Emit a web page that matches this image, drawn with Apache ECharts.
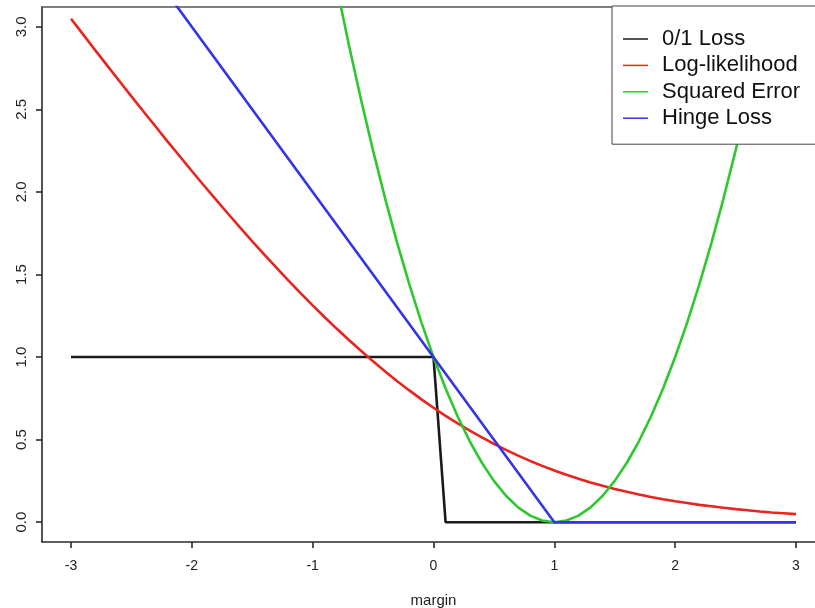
<!DOCTYPE html>
<html>
<head>
<meta charset="utf-8">
<script src="https://cdn.jsdelivr.net/npm/echarts@6/dist/echarts.min.js"></script>
<style>
  html, body { margin: 0; padding: 0; background: #fff; }
  #chart { width: 815px; height: 608px; }
</style>
</head>
<body>
<div id="chart"></div>
<script>
// values
var seriesNames = ['0/1 Loss', 'Log-likelihood', 'Squared Error', 'Hinge Loss'];
var xTicks = [-3, -2, -1, 0, 1, 2, 3];
var yTicks = [0, 0.5, 1, 1.5, 2, 2.5, 3];

var zeroOneX = [-3, 0, 0.1, 3];
var zeroOneY = [1, 1, 0, 0];

var marginX = [-3.0, -2.9, -2.8, -2.7, -2.6, -2.5, -2.4, -2.3, -2.2, -2.1,
  -2.0, -1.9, -1.8, -1.7, -1.6, -1.5, -1.4, -1.3, -1.2, -1.1,
  -1.0, -0.9, -0.8, -0.7, -0.6, -0.5, -0.4, -0.3, -0.2, -0.1,
  0.0, 0.1, 0.2, 0.3, 0.4, 0.5, 0.6, 0.7, 0.8, 0.9,
  1.0, 1.1, 1.2, 1.3, 1.4, 1.5, 1.6, 1.7, 1.8, 1.9,
  2.0, 2.1, 2.2, 2.3, 2.4, 2.5, 2.6, 2.7, 2.8, 2.9, 3.0];
var logLik = [3.049, 2.954, 2.859, 2.765, 2.672, 2.579, 2.487, 2.396, 2.305, 2.216,
  2.127, 2.039, 1.953, 1.868, 1.784, 1.701, 1.620, 1.541, 1.463, 1.387,
  1.313, 1.241, 1.171, 1.103, 1.038, 0.974, 0.913, 0.854, 0.798, 0.744,
  0.693, 0.644, 0.598, 0.554, 0.513, 0.474, 0.438, 0.403, 0.371, 0.341,
  0.313, 0.287, 0.263, 0.241, 0.220, 0.201, 0.184, 0.168, 0.153, 0.139,
  0.127, 0.116, 0.105, 0.096, 0.087, 0.079, 0.072, 0.065, 0.059, 0.054, 0.049];

var squaredX = [-1.0, -0.9, -0.8, -0.7, -0.6, -0.5, -0.4, -0.3, -0.2, -0.1,
  0.0, 0.1, 0.2, 0.3, 0.4, 0.5, 0.6, 0.7, 0.8, 0.9,
  1.0, 1.1, 1.2, 1.3, 1.4, 1.5, 1.6, 1.7, 1.8, 1.9,
  2.0, 2.1, 2.2, 2.3, 2.4, 2.5, 2.6, 2.7, 2.8, 2.9, 3.0];
var squaredErr = [4.00, 3.61, 3.24, 2.89, 2.56, 2.25, 1.96, 1.69, 1.44, 1.21,
  1.00, 0.81, 0.64, 0.49, 0.36, 0.25, 0.16, 0.09, 0.04, 0.01,
  0.00, 0.01, 0.04, 0.09, 0.16, 0.25, 0.36, 0.49, 0.64, 0.81,
  1.00, 1.21, 1.44, 1.69, 1.96, 2.25, 2.56, 2.89, 3.24, 3.61, 4.00];

var hingeX = [-3, 1, 3];
var hingeY = [4, 0, 0];

function pairs(xs, ys) {
  return xs.map(function (x, i) { return [x, ys[i]]; });
}

var dom = document.getElementById('chart');
var myChart = echarts.init(dom, null, { renderer: 'canvas' });

var axisColor = '#2a2a2a';
var axisWidth = 1.6;
var font = '"Liberation Sans", Arial, Helvetica, sans-serif';

var option = {
  animation: false,
  backgroundColor: '#fff',
  grid: {
    left: 42,
    top: 7,
    width: 783,
    height: 535,
    outerBoundsMode: 'none',
    show: false
  },
  legend: {
    orient: 'vertical',
    left: 612,
    top: 6,
    z: 10,
    icon: 'rect',
    itemWidth: 25,
    itemHeight: 1.5,
    itemGap: 4.4,
    padding: [22, 40, 15, 11],
    backgroundColor: '#fff',
    borderColor: '#444',
    borderWidth: 1,
    selectedMode: false,
    data: seriesNames,
    textStyle: {
      fontFamily: font,
      fontSize: 22,
      color: '#111',
      padding: [0, 0, 0, 9]
    }
  },
  xAxis: [
    {
      type: 'value',
      min: -3.24,
      max: 3.24,
      name: 'margin',
      nameLocation: 'middle',
      nameGap: 51,
      nameTextStyle: { fontFamily: font, fontSize: 15, color: '#222' },
      splitLine: { show: false },
      axisLine: { show: true, onZero: false, lineStyle: { color: axisColor, width: axisWidth } },
      axisTick: {
        show: true,
        length: 6,
        customValues: xTicks,
        lineStyle: { color: axisColor, width: axisWidth }
      },
      axisLabel: {
        customValues: xTicks,
        margin: 17,
        fontFamily: font,
        fontSize: 14,
        color: '#222'
      }
    },
    {
      // top edge of the plot box
      type: 'value',
      position: 'top',
      min: -3.24,
      max: 3.24,
      splitLine: { show: false },
      axisLine: { show: true, onZero: false, lineStyle: { color: '#555', width: axisWidth } },
      axisTick: { show: false },
      axisLabel: { show: false }
    }
  ],
  yAxis: {
    type: 'value',
    min: -0.12,
    max: 3.12,
    splitLine: { show: false },
    axisLine: { show: true, onZero: false, lineStyle: { color: axisColor, width: axisWidth } },
    axisTick: {
      show: true,
      length: 6,
      customValues: yTicks,
      lineStyle: { color: axisColor, width: axisWidth }
    },
    axisLabel: {
      customValues: yTicks,
      rotate: 90,
      margin: 13,
      fontFamily: font,
      fontSize: 15,
      color: '#222',
      formatter: function (v) { return v.toFixed(1); }
    }
  },
  series: [
    {
      name: seriesNames[0],
      type: 'line',
      data: pairs(zeroOneX, zeroOneY),
      color: '#1a1a1a',
      showSymbol: false,
      lineStyle: { width: 2.6 },
      z: 2
    },
    {
      name: seriesNames[1],
      type: 'line',
      data: pairs(marginX, logLik),
      color: '#e8241e',
      showSymbol: false,
      lineStyle: { width: 2.6 },
      z: 3
    },
    {
      name: seriesNames[2],
      type: 'line',
      data: pairs(squaredX, squaredErr),
      color: '#2ec82e',
      showSymbol: false,
      lineStyle: { width: 2.6 },
      z: 4
    },
    {
      name: seriesNames[3],
      type: 'line',
      data: pairs(hingeX, hingeY),
      color: '#3434e6',
      showSymbol: false,
      lineStyle: { width: 2.6 },
      z: 5
    }
  ]
};

myChart.setOption(option);
window.addEventListener('resize', myChart.resize);
</script>
</body>
</html>
